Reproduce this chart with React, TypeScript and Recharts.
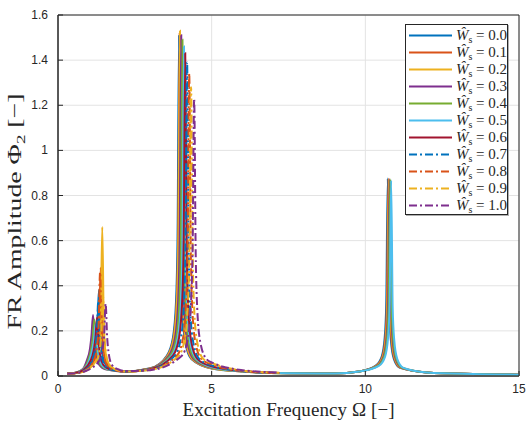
import React from 'react';
import { LineChart, Line, XAxis, YAxis, CartesianGrid, ReferenceArea } from 'recharts';

const wsValues = ['0.0', '0.1', '0.2', '0.3', '0.4', '0.5', '0.6', '0.7', '0.8', '0.9', '1.0'];
const lineColors = ['#0072BD', '#D95319', '#EDB120', '#7E2F8E', '#77AC30', '#4DBEEE', '#A2142F', '#0072BD', '#D95319', '#EDB120', '#7E2F8E'];
const xTicks = [0, 5, 10, 15];
const yTicks = [0, 0.2, 0.4, 0.6, 0.8, 1, 1.2, 1.4, 1.6];

// excitation frequency / FR amplitude, one pair per W_s
const omega00 = [0.3, 0.6, 0.9, 1.13, 1.23, 1.28, 1.33, 1.38, 1.43, 1.53, 1.73, 2.2, 3.0, 3.54, 3.74, 3.84, 3.89, 3.94, 3.99, 4.04, 4.14, 4.34, 5.0, 6.0, 7.5, 9.0, 9.8, 10.33, 10.53, 10.63, 10.68, 10.73, 10.78, 10.83, 10.93, 11.13, 12.0, 13.5, 15];
const phi00 = [0.01, 0.014, 0.028, 0.07, 0.13, 0.21, 0.38, 0.2, 0.11, 0.055, 0.03, 0.02, 0.034, 0.09, 0.17, 0.33, 0.62, 1.51, 0.6, 0.31, 0.15, 0.075, 0.033, 0.02, 0.012, 0.011, 0.02, 0.045, 0.085, 0.17, 0.32, 0.875, 0.3, 0.16, 0.075, 0.036, 0.016, 0.009, 0.006];

const omega01 = [0.3, 0.6, 0.9, 1.19, 1.29, 1.34, 1.39, 1.44, 1.49, 1.59, 1.79, 2.2, 3.0, 3.56, 3.76, 3.86, 3.91, 3.96, 4.01, 4.06, 4.16, 4.36, 5.0, 6.0, 7.5, 9.0, 9.8, 10.35, 10.55, 10.65, 10.7, 10.75, 10.8, 10.85, 10.95, 11.15, 12.0, 13.5, 15];
const phi01 = [0.01, 0.013, 0.025, 0.07, 0.13, 0.22, 0.48, 0.21, 0.11, 0.055, 0.03, 0.02, 0.033, 0.09, 0.17, 0.33, 0.62, 1.52, 0.6, 0.31, 0.15, 0.075, 0.034, 0.02, 0.012, 0.011, 0.02, 0.045, 0.085, 0.17, 0.32, 0.874, 0.3, 0.16, 0.075, 0.036, 0.016, 0.009, 0.006];

const omega02 = [0.3, 0.6, 0.9, 1.24, 1.34, 1.39, 1.44, 1.49, 1.54, 1.64, 1.84, 2.2, 3.0, 3.57, 3.77, 3.87, 3.92, 3.97, 4.02, 4.07, 4.17, 4.37, 5.0, 6.0, 7.5, 9.0, 9.8, 10.37, 10.57, 10.67, 10.72, 10.77, 10.82, 10.87, 10.97, 11.17, 12.0, 13.5, 15];
const phi02 = [0.01, 0.013, 0.024, 0.07, 0.13, 0.24, 0.66, 0.23, 0.11, 0.055, 0.03, 0.02, 0.033, 0.09, 0.17, 0.33, 0.62, 1.53, 0.6, 0.31, 0.15, 0.075, 0.034, 0.02, 0.012, 0.011, 0.02, 0.045, 0.085, 0.17, 0.32, 0.873, 0.3, 0.16, 0.075, 0.036, 0.016, 0.009, 0.006];

const omega03 = [0.3, 0.6, 0.8, 0.94, 1.04, 1.09, 1.14, 1.19, 1.24, 1.34, 1.54, 2.2, 3.0, 3.61, 3.81, 3.91, 3.96, 4.01, 4.06, 4.11, 4.21, 4.41, 5.0, 6.0, 7.5, 9.0, 9.8, 10.39, 10.59, 10.69, 10.74, 10.79, 10.84, 10.89, 10.99, 11.19, 12.0, 13.5, 15];
const phi03 = [0.011, 0.016, 0.03, 0.07, 0.12, 0.18, 0.27, 0.17, 0.1, 0.05, 0.03, 0.02, 0.032, 0.09, 0.17, 0.33, 0.62, 1.51, 0.6, 0.31, 0.15, 0.075, 0.036, 0.021, 0.012, 0.011, 0.02, 0.045, 0.085, 0.17, 0.32, 0.872, 0.3, 0.16, 0.075, 0.036, 0.016, 0.009, 0.006];

const omega04 = [0.3, 0.6, 0.8, 0.98, 1.08, 1.13, 1.18, 1.23, 1.28, 1.38, 1.58, 2.2, 3.0, 3.65, 3.85, 3.95, 4.0, 4.05, 4.1, 4.15, 4.25, 4.45, 5.0, 6.0, 7.5, 9.0, 9.8, 10.41, 10.61, 10.71, 10.76, 10.81, 10.86, 10.91, 11.01, 11.21, 12.0, 13.5, 15];
const phi04 = [0.011, 0.016, 0.028, 0.07, 0.12, 0.17, 0.25, 0.16, 0.1, 0.05, 0.03, 0.02, 0.031, 0.09, 0.17, 0.33, 0.61, 1.49, 0.59, 0.31, 0.15, 0.075, 0.038, 0.021, 0.012, 0.011, 0.02, 0.045, 0.085, 0.17, 0.32, 0.871, 0.3, 0.16, 0.075, 0.036, 0.016, 0.009, 0.006];

const omega05 = [0.3, 0.6, 0.8, 1.02, 1.12, 1.17, 1.22, 1.27, 1.32, 1.42, 1.62, 2.2, 3.0, 3.7, 3.9, 4.0, 4.05, 4.1, 4.15, 4.2, 4.3, 4.5, 5.0, 6.0, 7.5, 9.0, 9.8, 10.44, 10.64, 10.74, 10.79, 10.84, 10.89, 10.94, 11.04, 11.24, 12.0, 13.5, 15];
const phi05 = [0.011, 0.015, 0.026, 0.07, 0.12, 0.16, 0.23, 0.15, 0.09, 0.05, 0.03, 0.02, 0.03, 0.09, 0.17, 0.33, 0.61, 1.46, 0.59, 0.31, 0.15, 0.075, 0.04, 0.021, 0.012, 0.011, 0.02, 0.045, 0.085, 0.17, 0.32, 0.866, 0.3, 0.16, 0.075, 0.036, 0.016, 0.009, 0.006];

const omega06 = [0.3, 0.6, 0.8, 1.07, 1.17, 1.22, 1.27, 1.32, 1.37, 1.47, 1.67, 2.2, 3.0, 3.74, 3.94, 4.04, 4.09, 4.14, 4.19, 4.24, 4.34, 4.54, 5.0, 6.0, 7.2];
const phi06 = [0.011, 0.015, 0.025, 0.07, 0.12, 0.17, 0.26, 0.16, 0.09, 0.05, 0.03, 0.02, 0.03, 0.09, 0.17, 0.33, 0.6, 1.43, 0.58, 0.3, 0.15, 0.075, 0.043, 0.022, 0.013];

const omega07 = [0.3, 0.6, 0.9, 1.11, 1.21, 1.26, 1.31, 1.36, 1.41, 1.51, 1.71, 2.2, 3.0, 3.8, 4.0, 4.1, 4.15, 4.2, 4.25, 4.3, 4.4, 4.6, 5.0, 6.0, 7.2];
const phi07 = [0.01, 0.014, 0.028, 0.07, 0.12, 0.19, 0.33, 0.18, 0.1, 0.05, 0.03, 0.02, 0.029, 0.09, 0.17, 0.33, 0.6, 1.39, 0.58, 0.3, 0.15, 0.075, 0.047, 0.022, 0.013];

const omega08 = [0.3, 0.6, 0.9, 1.17, 1.27, 1.32, 1.37, 1.42, 1.47, 1.57, 1.77, 2.2, 3.0, 3.87, 4.07, 4.17, 4.22, 4.27, 4.32, 4.37, 4.47, 4.67, 5.0, 6.0, 7.2];
const phi08 = [0.01, 0.013, 0.025, 0.07, 0.13, 0.22, 0.46, 0.2, 0.11, 0.055, 0.03, 0.02, 0.028, 0.09, 0.17, 0.33, 0.59, 1.34, 0.57, 0.3, 0.15, 0.075, 0.052, 0.023, 0.013];

const omega09 = [0.3, 0.6, 0.9, 1.26, 1.36, 1.41, 1.46, 1.51, 1.56, 1.66, 1.86, 2.2, 3.0, 3.93, 4.13, 4.23, 4.28, 4.33, 4.38, 4.43, 4.53, 4.73, 5.0, 6.0, 7.2];
const phi09 = [0.01, 0.013, 0.023, 0.07, 0.12, 0.19, 0.36, 0.18, 0.1, 0.05, 0.03, 0.02, 0.027, 0.09, 0.17, 0.33, 0.58, 1.28, 0.56, 0.3, 0.15, 0.075, 0.058, 0.024, 0.014];

const omega10 = [0.3, 0.6, 0.9, 1.35, 1.45, 1.5, 1.55, 1.6, 1.65, 1.75, 1.95, 2.2, 3.0, 4.03, 4.23, 4.33, 4.38, 4.43, 4.48, 4.53, 4.63, 4.83, 5.0, 6.0, 7.2];
const phi10 = [0.01, 0.013, 0.022, 0.07, 0.12, 0.18, 0.32, 0.17, 0.1, 0.05, 0.03, 0.022, 0.026, 0.09, 0.17, 0.33, 0.57, 1.23, 0.55, 0.3, 0.15, 0.075, 0.06, 0.026, 0.015];

const omegaSets = [omega00, omega01, omega02, omega03, omega04, omega05, omega06, omega07, omega08, omega09, omega10];
const phiSets = [phi00, phi01, phi02, phi03, phi04, phi05, phi06, phi07, phi08, phi09, phi10];

const series = wsValues.map((w, i) => ({
  name: w,
  color: lineColors[i],
  dashed: i >= 7,
  data: omegaSets[i].map((o, j) => ({ omega: o, phi: phiSets[i][j] })),
}));

const AXIS = '#262626';
const TICK_FONT = '"Liberation Sans", Arial, sans-serif';
const LABEL_FONT = '"Liberation Serif", "Times New Roman", serif';
const DASH = '8 3 2 3';

const BottomTick = (props: any) => {
  const { x, y, payload } = props;
  return (
    <g>
      <line x1={x} x2={x} y1={y} y2={y - 5} stroke={AXIS} />
      <text x={x} y={y + 17} textAnchor="middle" fontSize={12} fill={AXIS} fontFamily={TICK_FONT}>
        {payload.value}
      </text>
    </g>
  );
};

const LeftTick = (props: any) => {
  const { x, y, payload } = props;
  return (
    <g>
      <line x1={x} x2={x + 5} y1={y} y2={y} stroke={AXIS} />
      <text x={x - 10} y={y + 4} textAnchor="end" fontSize={12} fill={AXIS} fontFamily={TICK_FONT}>
        {payload.value}
      </text>
    </g>
  );
};

const TopTick = (props: any) => {
  const { x, y } = props;
  return <line x1={x} x2={x} y1={y} y2={y + 5} stroke={AXIS} />;
};

const RightTick = (props: any) => {
  const { x, y } = props;
  return <line x1={x} x2={x - 5} y1={y} y2={y} stroke={AXIS} />;
};

const XLabel = (props: any) => {
  const vb = props.viewBox;
  return (
    <text
      x={vb.x + vb.width / 2}
      y={vb.y + 40}
      textAnchor="middle"
      fontSize={19}
      fill={AXIS}
      fontFamily={LABEL_FONT}
      textLength={212}
      lengthAdjust="spacing"
    >
      Excitation Frequency Ω [−]
    </text>
  );
};

const YLabel = (props: any) => {
  const vb = props.viewBox;
  const cx = 21;
  const cy = vb.y + vb.height / 2 + 16;
  return (
    <text
      x={cx}
      y={cy}
      transform={`rotate(-90, ${cx}, ${cy})`}
      textAnchor="middle"
      fontSize={19}
      fill={AXIS}
      fontFamily={LABEL_FONT}
      textLength={236}
      lengthAdjust="spacingAndGlyphs"
    >
      FR Amplitude Φ<tspan dy={4} fontSize={13}>2</tspan>
      <tspan dy={-4}> [−]</tspan>
    </text>
  );
};

const LegendBox = () => (
  <div
    style={{
      position: 'absolute',
      left: 405,
      top: 24,
      width: 103,
      height: 191,
      boxSizing: 'border-box',
      border: '1px solid #262626',
      boxShadow: '1px 1px 0 #b0b0b0',
      background: '#fff',
      paddingTop: 2,
    }}
  >
    {series.map((s) => (
      <div key={s.name} style={{ height: 17, display: 'flex', alignItems: 'center' }}>
        <svg width={50} height={17} style={{ display: 'block' }}>
          <line
            x1={3}
            x2={46}
            y1={8.5}
            y2={8.5}
            stroke={s.color}
            strokeWidth={2}
            strokeDasharray={s.dashed ? DASH : undefined}
          />
        </svg>
        <span style={{ fontFamily: LABEL_FONT, fontSize: 15, color: AXIS, whiteSpace: 'nowrap', lineHeight: '17px' }}>
          <i>Ŵ</i>
          <span style={{ fontSize: 10, position: 'relative', top: 3 }}>s</span> = {s.name}
        </span>
      </div>
    ))}
  </div>
);

export default function App() {
  return (
    <div style={{ position: 'absolute', left: 0, top: 0, width: 528, height: 429, background: '#fff' }}>
      <LineChart width={528} height={429} margin={{ top: 15, right: 9, left: 0, bottom: 0 }}>
        <CartesianGrid stroke="#e3e3e3" />
        <XAxis
          dataKey="omega"
          type="number"
          domain={[0, 15]}
          ticks={xTicks}
          interval={0}
          allowDataOverflow
          height={53}
          tickLine={false}
          tickSize={0}
          tickMargin={0}
          axisLine={{ stroke: AXIS }}
          tick={<BottomTick />}
          label={<XLabel />}
        />
        <YAxis
          type="number"
          domain={[0, 1.6]}
          ticks={yTicks}
          interval={0}
          allowDataOverflow
          width={58}
          tickLine={false}
          tickSize={0}
          tickMargin={0}
          axisLine={{ stroke: AXIS }}
          tick={<LeftTick />}
          label={<YLabel />}
        />
        <XAxis
          xAxisId="top"
          orientation="top"
          type="number"
          domain={[0, 15]}
          ticks={xTicks}
          interval={0}
          height={0}
          tickLine={false}
          tickSize={0}
          tickMargin={0}
          axisLine={false}
          tick={<TopTick />}
        />
        <YAxis
          yAxisId="right"
          orientation="right"
          type="number"
          domain={[0, 1.6]}
          ticks={yTicks}
          interval={0}
          width={0}
          tickLine={false}
          tickSize={0}
          tickMargin={0}
          axisLine={false}
          tick={<RightTick />}
        />
        {series.map((s) => (
          <Line
            key={s.name}
            data={s.data}
            dataKey="phi"
            type="monotone"
            stroke={s.color}
            strokeWidth={2}
            strokeDasharray={s.dashed ? DASH : undefined}
            dot={false}
            isAnimationActive={false}
          />
        ))}
        <ReferenceArea x1={0} x2={15} y1={0} y2={1.6} fill="none" stroke={AXIS} strokeWidth={1} />
      </LineChart>
      <LegendBox />
    </div>
  );
}
